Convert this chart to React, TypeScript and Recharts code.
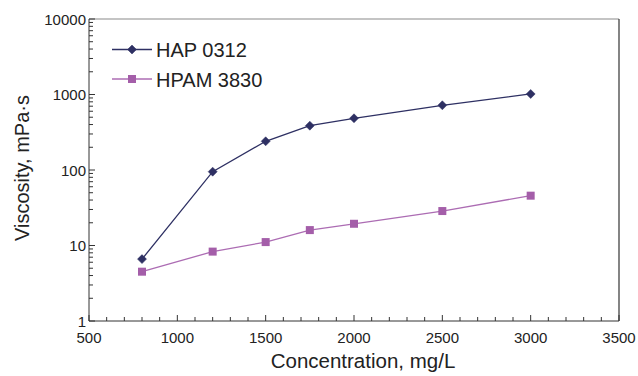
import { Line, LineChart, ReferenceLine, XAxis, YAxis } from "recharts";

const concentrations = [800, 1200, 1500, 1750, 2000, 2500, 3000];
const hap0312 = [6.6, 95, 240, 386, 484, 720, 1016];
const hpam3830 = [4.5, 8.3, 11.1, 16.0, 19.4, 28.6, 45.7];

const xTicks = [
  500, 600, 700, 800, 900, 1000, 1100, 1200, 1300, 1400, 1500, 1600, 1700, 1800, 1900, 2000,
  2100, 2200, 2300, 2400, 2500, 2600, 2700, 2800, 2900, 3000, 3100, 3200, 3300, 3400, 3500,
];
const xLabels = [500, 1000, 1500, 2000, 2500, 3000, 3500];
const yMajor = [1, 10, 100, 1000, 10000];
const yTicks = [
  1, 2, 3, 4, 5, 6, 7, 8, 9, 10, 20, 30, 40, 50, 60, 70, 80, 90, 100, 200, 300, 400, 500, 600,
  700, 800, 900, 1000, 2000, 3000, 4000, 5000, 6000, 7000, 8000, 9000, 10000,
];

const HAP_COLOR = "#2e3063";
const HPAM_COLOR = "#a45ea9";
const HPAM_LINE = "#ac6cb3";
const AXIS_COLOR = "#333";
const FONT = "Arial, 'Liberation Sans', sans-serif";

const data = concentrations.map((c, i) => ({ c, hap: hap0312[i], hpam: hpam3830[i] }));

function Diamond({ cx, cy, color }: { cx: number; cy: number; color: string }) {
  return (
    <polygon
      points={`${cx},${cy - 4.5} ${cx + 4.5},${cy} ${cx},${cy + 4.5} ${cx - 4.5},${cy}`}
      fill={color}
      stroke={color}
      strokeWidth={0.5}
    />
  );
}

function Square({ cx, cy, color }: { cx: number; cy: number; color: string }) {
  return <rect x={cx - 4} y={cy - 4} width={8} height={8} fill={color} />;
}

function XTick({ x, y, payload }: any) {
  const major = xLabels.includes(payload.value);
  return (
    <g>
      <line x1={x} y1={y} x2={x} y2={y - (major ? 6 : 4)} stroke={AXIS_COLOR} strokeWidth={1} />
      {major && (
        <text x={x} y={y + 22} textAnchor="middle" fontSize={15} fill="#222" style={{ fontFamily: FONT }}>
          {payload.value}
        </text>
      )}
    </g>
  );
}

function YTick({ x, y, payload }: any) {
  const major = yMajor.includes(payload.value);
  return (
    <g>
      <line x1={x} y1={y} x2={x + (major ? 6 : 4)} y2={y} stroke={AXIS_COLOR} strokeWidth={1} />
      {major && (
        <text x={x - 3} y={y + 5.5} textAnchor="end" fontSize={15} fill="#222" style={{ fontFamily: FONT }}>
          {payload.value}
        </text>
      )}
    </g>
  );
}

function LegendBox() {
  const rows = [
    { name: "HAP 0312", color: HAP_COLOR, line: HAP_COLOR, shape: "diamond" },
    { name: "HPAM 3830", color: HPAM_COLOR, line: HPAM_LINE, shape: "square" },
  ];
  return (
    <svg width={230} height={62} style={{ position: "absolute", left: 112, top: 41 }}>
      {rows.map((r, i) => {
        const cy = 8.5 + i * 29.5;
        return (
          <g key={r.name}>
            <line x1={0} y1={cy} x2={40} y2={cy} stroke={r.line} strokeWidth={1.3} />
            {r.shape === "diamond" ? (
              <Diamond cx={20} cy={cy} color={r.color} />
            ) : (
              <Square cx={20} cy={cy} color={r.color} />
            )}
            <text x={44} y={cy + 7.5} fontSize={20} fill="#222" style={{ fontFamily: FONT }}>
              {r.name}
            </text>
          </g>
        );
      })}
    </svg>
  );
}

function XTitle({ viewBox }: any) {
  return (
    <text
      x={viewBox.x + viewBox.width / 2 + 9}
      y={viewBox.y + 47}
      textAnchor="middle"
      fontSize={20.5}
      fill="#222"
      style={{ fontFamily: FONT }}
    >
      Concentration, mg/L
    </text>
  );
}

function YTitle({ viewBox }: any) {
  const cx = 29;
  const cy = viewBox.y + viewBox.height / 2 - 2;
  return (
    <text
      x={cx}
      y={cy}
      transform={`rotate(-90 ${cx} ${cy})`}
      textAnchor="middle"
      fontSize={20}
      fill="#222"
      style={{ fontFamily: FONT }}
    >
      Viscosity, mPa·s
    </text>
  );
}

export default function App() {
  return (
    <div style={{ position: "absolute", left: 0, top: 0, width: 638, height: 376, background: "#fff" }}>
      <LineChart width={638} height={376} data={data} margin={{ top: 19, right: 19, left: 29, bottom: 25 }}>
        <XAxis
          dataKey="c"
          type="number"
          domain={[500, 3500]}
          ticks={xTicks}
          interval={0}
          tick={<XTick />}
          tickSize={0}
          tickMargin={0}
          height={30}
          stroke={AXIS_COLOR}
          label={<XTitle />}
        />
        <YAxis
          scale="log"
          domain={[1, 10000]}
          ticks={yTicks}
          interval={0}
          allowDataOverflow
          tick={<YTick />}
          tickSize={0}
          tickMargin={0}
          width={60}
          stroke={AXIS_COLOR}
          label={<YTitle />}
        />
        <ReferenceLine y={10000} stroke="#8a8a8a" strokeWidth={1.2} ifOverflow="visible" />
        <ReferenceLine x={3500} stroke={AXIS_COLOR} strokeWidth={1.2} ifOverflow="visible" />
        <Line
          dataKey="hap"
          name="HAP 0312"
          type="linear"
          stroke={HAP_COLOR}
          strokeWidth={1.3}
          isAnimationActive={false}
          dot={({ cx, cy, index }: any) => <Diamond key={`h${index}`} cx={cx} cy={cy} color={HAP_COLOR} />}
        />
        <Line
          dataKey="hpam"
          name="HPAM 3830"
          type="linear"
          stroke={HPAM_LINE}
          strokeWidth={1.3}
          isAnimationActive={false}
          dot={({ cx, cy, index }: any) => <Square key={`p${index}`} cx={cx} cy={cy} color={HPAM_COLOR} />}
        />
      </LineChart>
      <LegendBox />
    </div>
  );
}
